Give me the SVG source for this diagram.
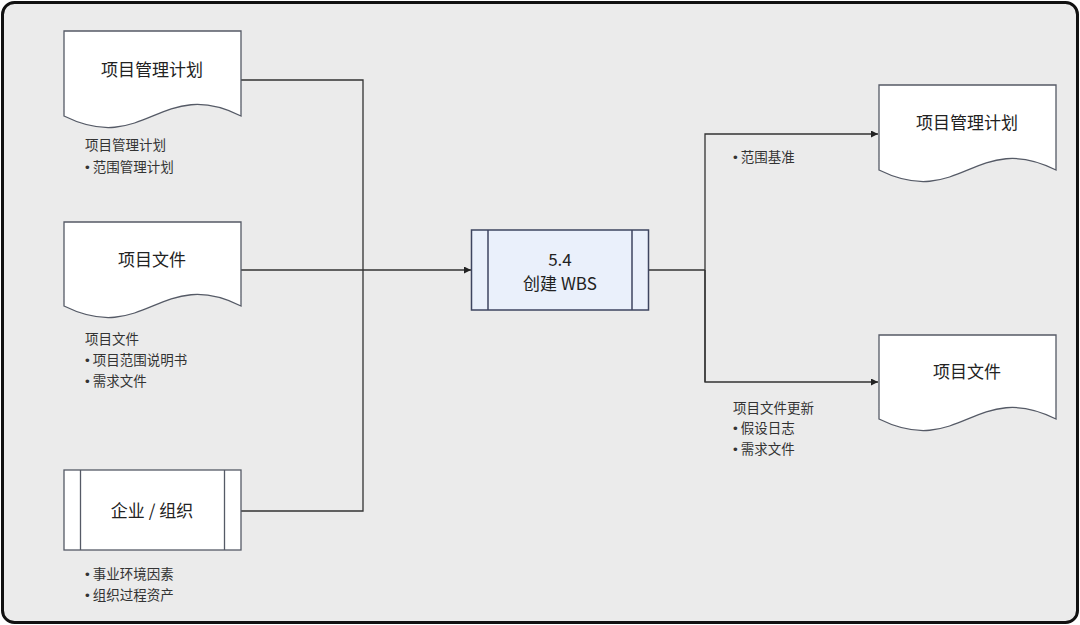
<svg xmlns="http://www.w3.org/2000/svg" width="1080" height="625" viewBox="0 0 1080 625">
<defs>
<marker id="arr" viewBox="0 0 10 10" refX="10" refY="5" markerWidth="7" markerHeight="7" markerUnits="userSpaceOnUse" orient="auto"><path d="M0,0 L10,5 L0,10 z" fill="#222"/></marker>
<style>
.frame{fill:#ebebeb;stroke:#111;stroke-width:3}
.doc{fill:#fff;stroke:#555a66;stroke-width:1.3}
.box{fill:#fff;stroke:#555a66;stroke-width:1.3}
.proc{fill:#eaf0fb;stroke:#3e4560;stroke-width:1.5}
.conn{fill:none;stroke:#333;stroke-width:1.3}
.t{font-family:"Noto Sans CJK SC","Liberation Sans",sans-serif;fill:#222;text-anchor:middle;font-size:17px}
.l{font-family:"Noto Sans CJK SC","Liberation Sans",sans-serif;fill:#333;font-size:13.5px}
.b{font-family:"Liberation Sans",sans-serif}
</style>
</defs>
<rect class="frame" x="2.5" y="2.5" width="1075" height="620" rx="12"/>
<g id="conns">
<path class="conn" d="M241,80 H363 V511 H241"/>
<path class="conn" d="M241,270 H471" marker-end="url(#arr)"/>
<path class="conn" d="M649,270 H705"/>
<path class="conn" d="M705,382 V134 H878" marker-end="url(#arr)"/>
<path class="conn" d="M705,270 V382 H878" marker-end="url(#arr)"/>
</g>
<g id="in-pmp">
<path class="doc" d="M64,31 H241 V116 C161,76 145,156 64,116 Z"/>
<text class="t" x="152" y="76">项目管理计划</text>
<text class="l" x="85" y="150">项目管理计划</text>
<text class="l" x="85" y="172"><tspan class="b">•</tspan> 范围管理计划</text>
</g>
<g id="in-docs">
<path class="doc" d="M64,222 H241 V306 C161,266 145,346 64,306 Z"/>
<text class="t" x="152" y="266">项目文件</text>
<text class="l" x="85" y="344">项目文件</text>
<text class="l" x="85" y="365"><tspan class="b">•</tspan> 项目范围说明书</text>
<text class="l" x="85" y="386"><tspan class="b">•</tspan> 需求文件</text>
</g>
<g id="in-org">
<rect class="box" x="64" y="470" width="177" height="80"/>
<line class="box" x1="80.5" y1="470" x2="80.5" y2="550"/>
<line class="box" x1="224.5" y1="470" x2="224.5" y2="550"/>
<text class="t" x="152" y="517">企业 / 组织</text>
<text class="l" x="85" y="579"><tspan class="b">•</tspan> 事业环境因素</text>
<text class="l" x="85" y="600"><tspan class="b">•</tspan> 组织过程资产</text>
</g>
<g id="proc">
<rect class="proc" x="471.5" y="230" width="177" height="80"/>
<line class="proc" x1="488" y1="230" x2="488" y2="310"/>
<line class="proc" x1="632" y1="230" x2="632" y2="310"/>
<text class="t" x="560" y="266">5.4</text>
<text class="t" x="560" y="290">创建 WBS</text>
</g>
<g id="out-pmp">
<path class="doc" d="M879,85 H1056 V170 C976,130 960,210 879,170 Z"/>
<text class="t" x="967" y="129">项目管理计划</text>
<text class="l" x="733" y="162"><tspan class="b">•</tspan> 范围基准</text>
</g>
<g id="out-docs">
<path class="doc" d="M879,335 H1056 V419 C976,379 960,459 879,419 Z"/>
<text class="t" x="967" y="378">项目文件</text>
<text class="l" x="733" y="413">项目文件更新</text>
<text class="l" x="733" y="433"><tspan class="b">•</tspan> 假设日志</text>
<text class="l" x="733" y="454"><tspan class="b">•</tspan> 需求文件</text>
</g>
</svg>
